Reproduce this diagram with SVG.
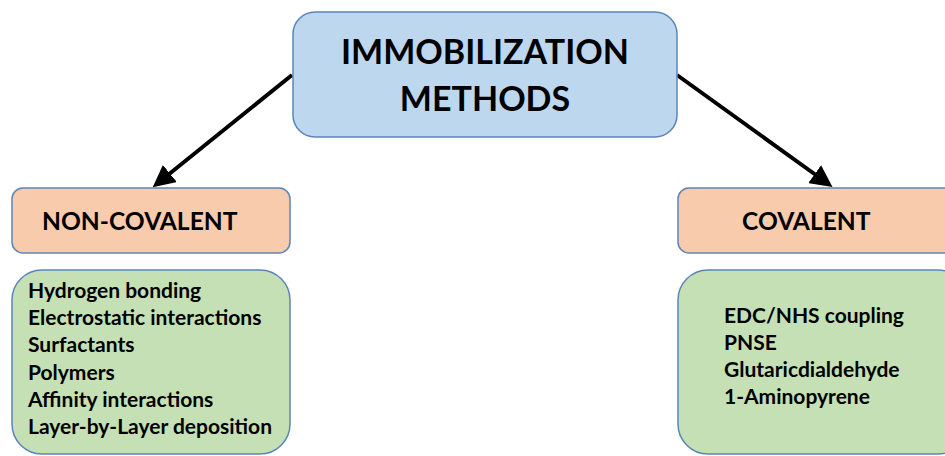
<svg xmlns="http://www.w3.org/2000/svg" width="945" height="456" viewBox="0 0 945 456">
<style>
.box{stroke:#5B85BA;stroke-width:1.5}
.blue{fill:#BDD7EE}
.orange{fill:#F8CBAD}
.green{fill:#C5E0B4}
text{font-family:Lato,"Liberation Sans",sans-serif;font-weight:bold;fill:#000}
.title{font-size:34px;text-anchor:middle}
.head{font-size:24.6px}
.item{font-size:21px}
.conn{stroke:#000;stroke-width:4;fill:none;marker-end:url(#ah)}
</style>
<defs>
<marker id="ah" markerWidth="5.5" markerHeight="5.5" refX="3.8" refY="2.75" orient="auto" markerUnits="strokeWidth">
<path d="M0,0 L5.5,2.75 L0,5.5 Z" fill="#000"/>
</marker>
</defs>
<rect width="945" height="456" fill="#fff"/>
<g id="connectors">
<line class="conn" x1="292" y1="75" x2="158" y2="183"/>
<line class="conn" x1="677" y1="75" x2="827" y2="183"/>
</g>
<g id="root">
<rect class="box blue" x="293" y="12" width="384" height="125" rx="22"/>
<text class="title" x="485" y="64">IMMOBILIZATION</text>
<text class="title" x="485" y="111">METHODS</text>
</g>
<g id="noncovalent">
<rect class="box orange" x="12" y="188" width="278" height="65" rx="11"/>
<text class="head" x="42" y="230">NON-COVALENT</text>
</g>
<g id="covalent">
<rect class="box orange" x="678" y="188" width="290" height="65" rx="11"/>
<text class="head" x="742" y="230">COVALENT</text>
</g>
<g id="noncovalent-list">
<rect class="box green" x="12" y="270" width="278" height="184" rx="30"/>
<text class="item" x="28" y="298">Hydrogen bonding</text>
<text class="item" x="28" y="325">Electrostatic interactions</text>
<text class="item" x="28" y="352">Surfactants</text>
<text class="item" x="28" y="380">Polymers</text>
<text class="item" x="28" y="407">Affinity interactions</text>
<text class="item" x="28" y="434">Layer-by-Layer deposition</text>
</g>
<g id="covalent-list">
<rect class="box green" x="678" y="270" width="290" height="184" rx="30"/>
<text class="item" x="724" y="323">EDC/NHS coupling</text>
<text class="item" x="724" y="350">PNSE</text>
<text class="item" x="724" y="377">Glutaricdialdehyde</text>
<text class="item" x="724" y="404">1-Aminopyrene</text>
</g>
</svg>
